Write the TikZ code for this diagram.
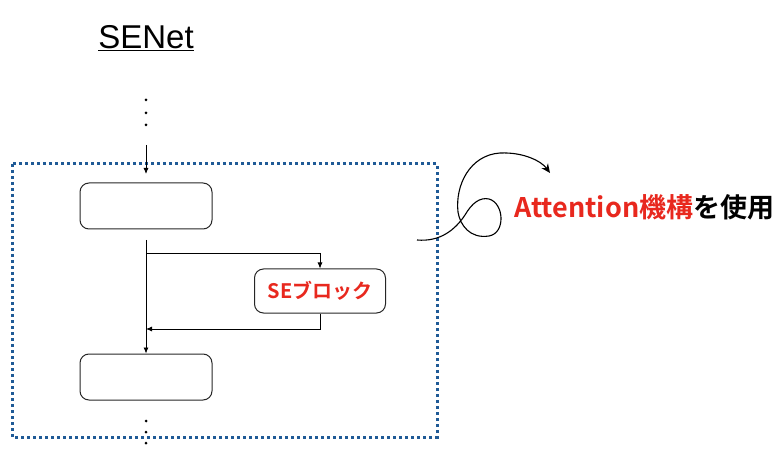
\documentclass[tikz,border=0pt]{standalone}
\usepackage{fontspec}
\setmainfont{Liberation Sans}
\newfontfamily\cjk{Noto Sans CJK JP}[BoldFont={Noto Sans CJK JP Bold}]
\usetikzlibrary{arrows.meta}
\definecolor{sered}{HTML}{E8281E}
\definecolor{boxblue}{HTML}{1F5A96}
\tikzset{
  blk/.style={draw=black!85, line width=1pt, rounded corners=9pt, minimum width=132pt, minimum height=46pt, inner sep=0pt},
  conn/.style={draw=black, line width=0.8pt, -{Latex[length=6pt,width=5pt]}},
  plain/.style={draw=black, line width=0.8pt},
  dotc/.style={fill=black, circle, inner sep=0pt, minimum size=3pt},
}
\begin{document}
\begin{tikzpicture}[x=1pt,y=-1pt]
\useasboundingbox (0,0) rectangle (784,454);
\node[font=\fontsize{33}{33}\selectfont] (title) at (146,38) {\underline{SENet}};
\node[dotc] (d1) at (146,100) {};
\node[dotc] (d2) at (146,113) {};
\node[dotc] (d3) at (146,125) {};
\coordinate (ain) at (146,145);
% dotted frame
\draw[boxblue, line width=3pt, dash pattern=on 3pt off 3pt] (12,164) rectangle (437,437);
\node[blk] (b1) at (146,206) {};
\coordinate (ain2) at (146,174);
\draw[conn] (ain) -- (ain2);
\node[blk, minimum width=131pt, minimum height=44pt, font=\cjk\bfseries\fontsize{20}{20}\selectfont, text=sered] (se) at (320,291) {SEブロック};
\node[blk] (b2) at (146,377) {};
\coordinate (s0) at (146,240);
\coordinate (s1) at (146,253);
\coordinate (s2) at (320,253);
\coordinate (m1) at (320,329);
\coordinate (m2) at (146,329);
\draw[plain] (s1) -- (s2);
\draw[conn] (s2) -- (se.north);
\draw[conn] (se.south) -- (m1) -- (m2);
\draw[conn] (s0) -- (b2.north);
\node[dotc] (e1) at (146,421) {};
\node[dotc] (e2) at (146,432) {};
\node[dotc] (e3) at (146,443) {};
% curly arrow
\coordinate (cs) at (417,240);
\coordinate (ce) at (550,173);
\draw[line width=1.1pt, -{Stealth[length=9pt,width=8pt]}] (cs) .. controls (440,242) and (455,230) .. (465,215)
  .. controls (472,203) and (480,197) .. (489,199)
  .. controls (504,203) and (506,233) .. (489,236)
  .. controls (470,239) and (460,225) .. (458,212)
  .. controls (455,185) and (470,155) .. (500,153)
  .. controls (525,152) and (542,162) .. (ce);
\node[anchor=west, font=\cjk\bfseries\fontsize{27}{27}\selectfont, inner sep=0pt] (att) at (514,207) {\textcolor{sered}{Attention機構}を使用};
\end{tikzpicture}
\end{document}
